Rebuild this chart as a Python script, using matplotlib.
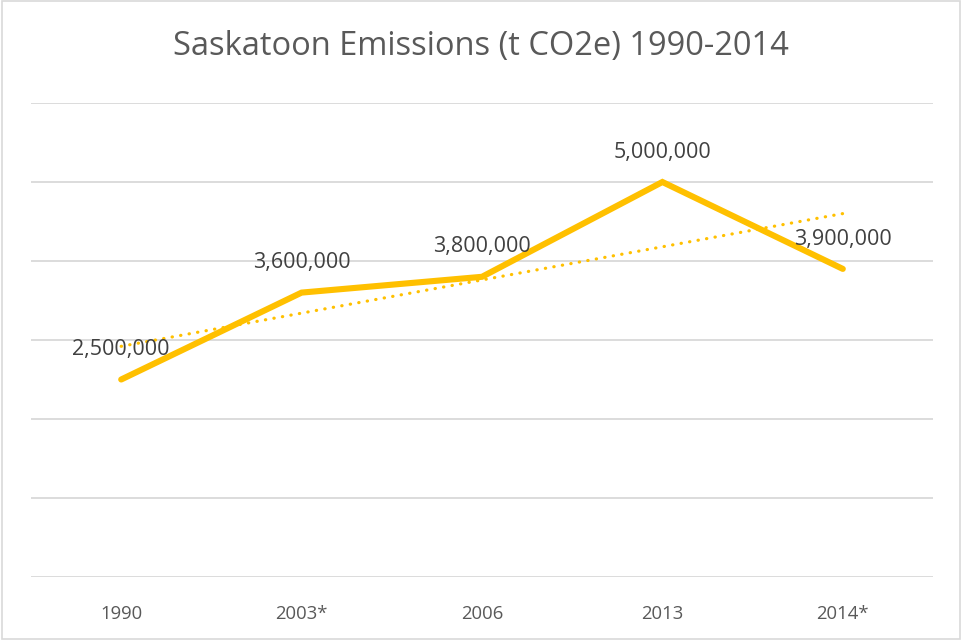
import numpy as np
import matplotlib
matplotlib.use('Agg')
from matplotlib import pyplot as plt
from matplotlib.patches import Rectangle

# data
years = ['1990', '2003*', '2006', '2013', '2014*']
emissions = [2500000, 3600000, 3800000, 5000000, 3900000]

plt.rcParams['font.family'] = ['Open Sans', 'DejaVu Sans']

fig = plt.figure(figsize=(9.62, 6.4), dpi=100)
ax = fig.add_axes([31 / 962, 1 - 577 / 640, 902 / 962, 474 / 640])

x = np.arange(len(years))

# linear trendline like excel
k, b = np.polyfit(x, emissions, 1)
ax.plot(x, k * x + b, color='#FFC000', lw=2.3, linestyle=(0, (0.1, 2.6)),
        dash_capstyle='round', zorder=2)

ax.plot(x, emissions, color='#FFC000', lw=4.4, solid_capstyle='round',
        solid_joinstyle='miter', zorder=3)

for xi, v in zip(x, emissions):
    ax.annotate(f'{v:,}', (xi, v), xytext=(0, 21.5), textcoords='offset points',
                ha='center', va='center', fontsize=15.5, color='#404040')

ax.set_xlim(-0.5, len(years) - 0.5)
ax.set_ylim(0, 6000000)
ax.set_yticks(np.arange(0, 6000001, 1000000))
ax.yaxis.grid(True, color='#D9D9D9', lw=1.3)
ax.set_axisbelow(True)
ax.set_yticklabels([])
ax.tick_params(axis='y', length=0)
ax.set_xticks(x)
ax.set_xticklabels(years, fontsize=13.3, color='#595959')
ax.tick_params(axis='x', length=0, pad=20)
for s in ax.spines.values():
    s.set_visible(False)

fig.text(0.5, 1 - 47 / 640, 'Saskatoon Emissions (t CO2e) 1990-2014',
         ha='center', va='center', fontsize=23.5, color='#595959')

fig.patches.append(Rectangle((0.002, 0.002), 0.996, 0.996, transform=fig.transFigure,
                             fill=False, edgecolor='#D9D9D9', lw=1.2))

fig.savefig('out.png', dpi=100)
